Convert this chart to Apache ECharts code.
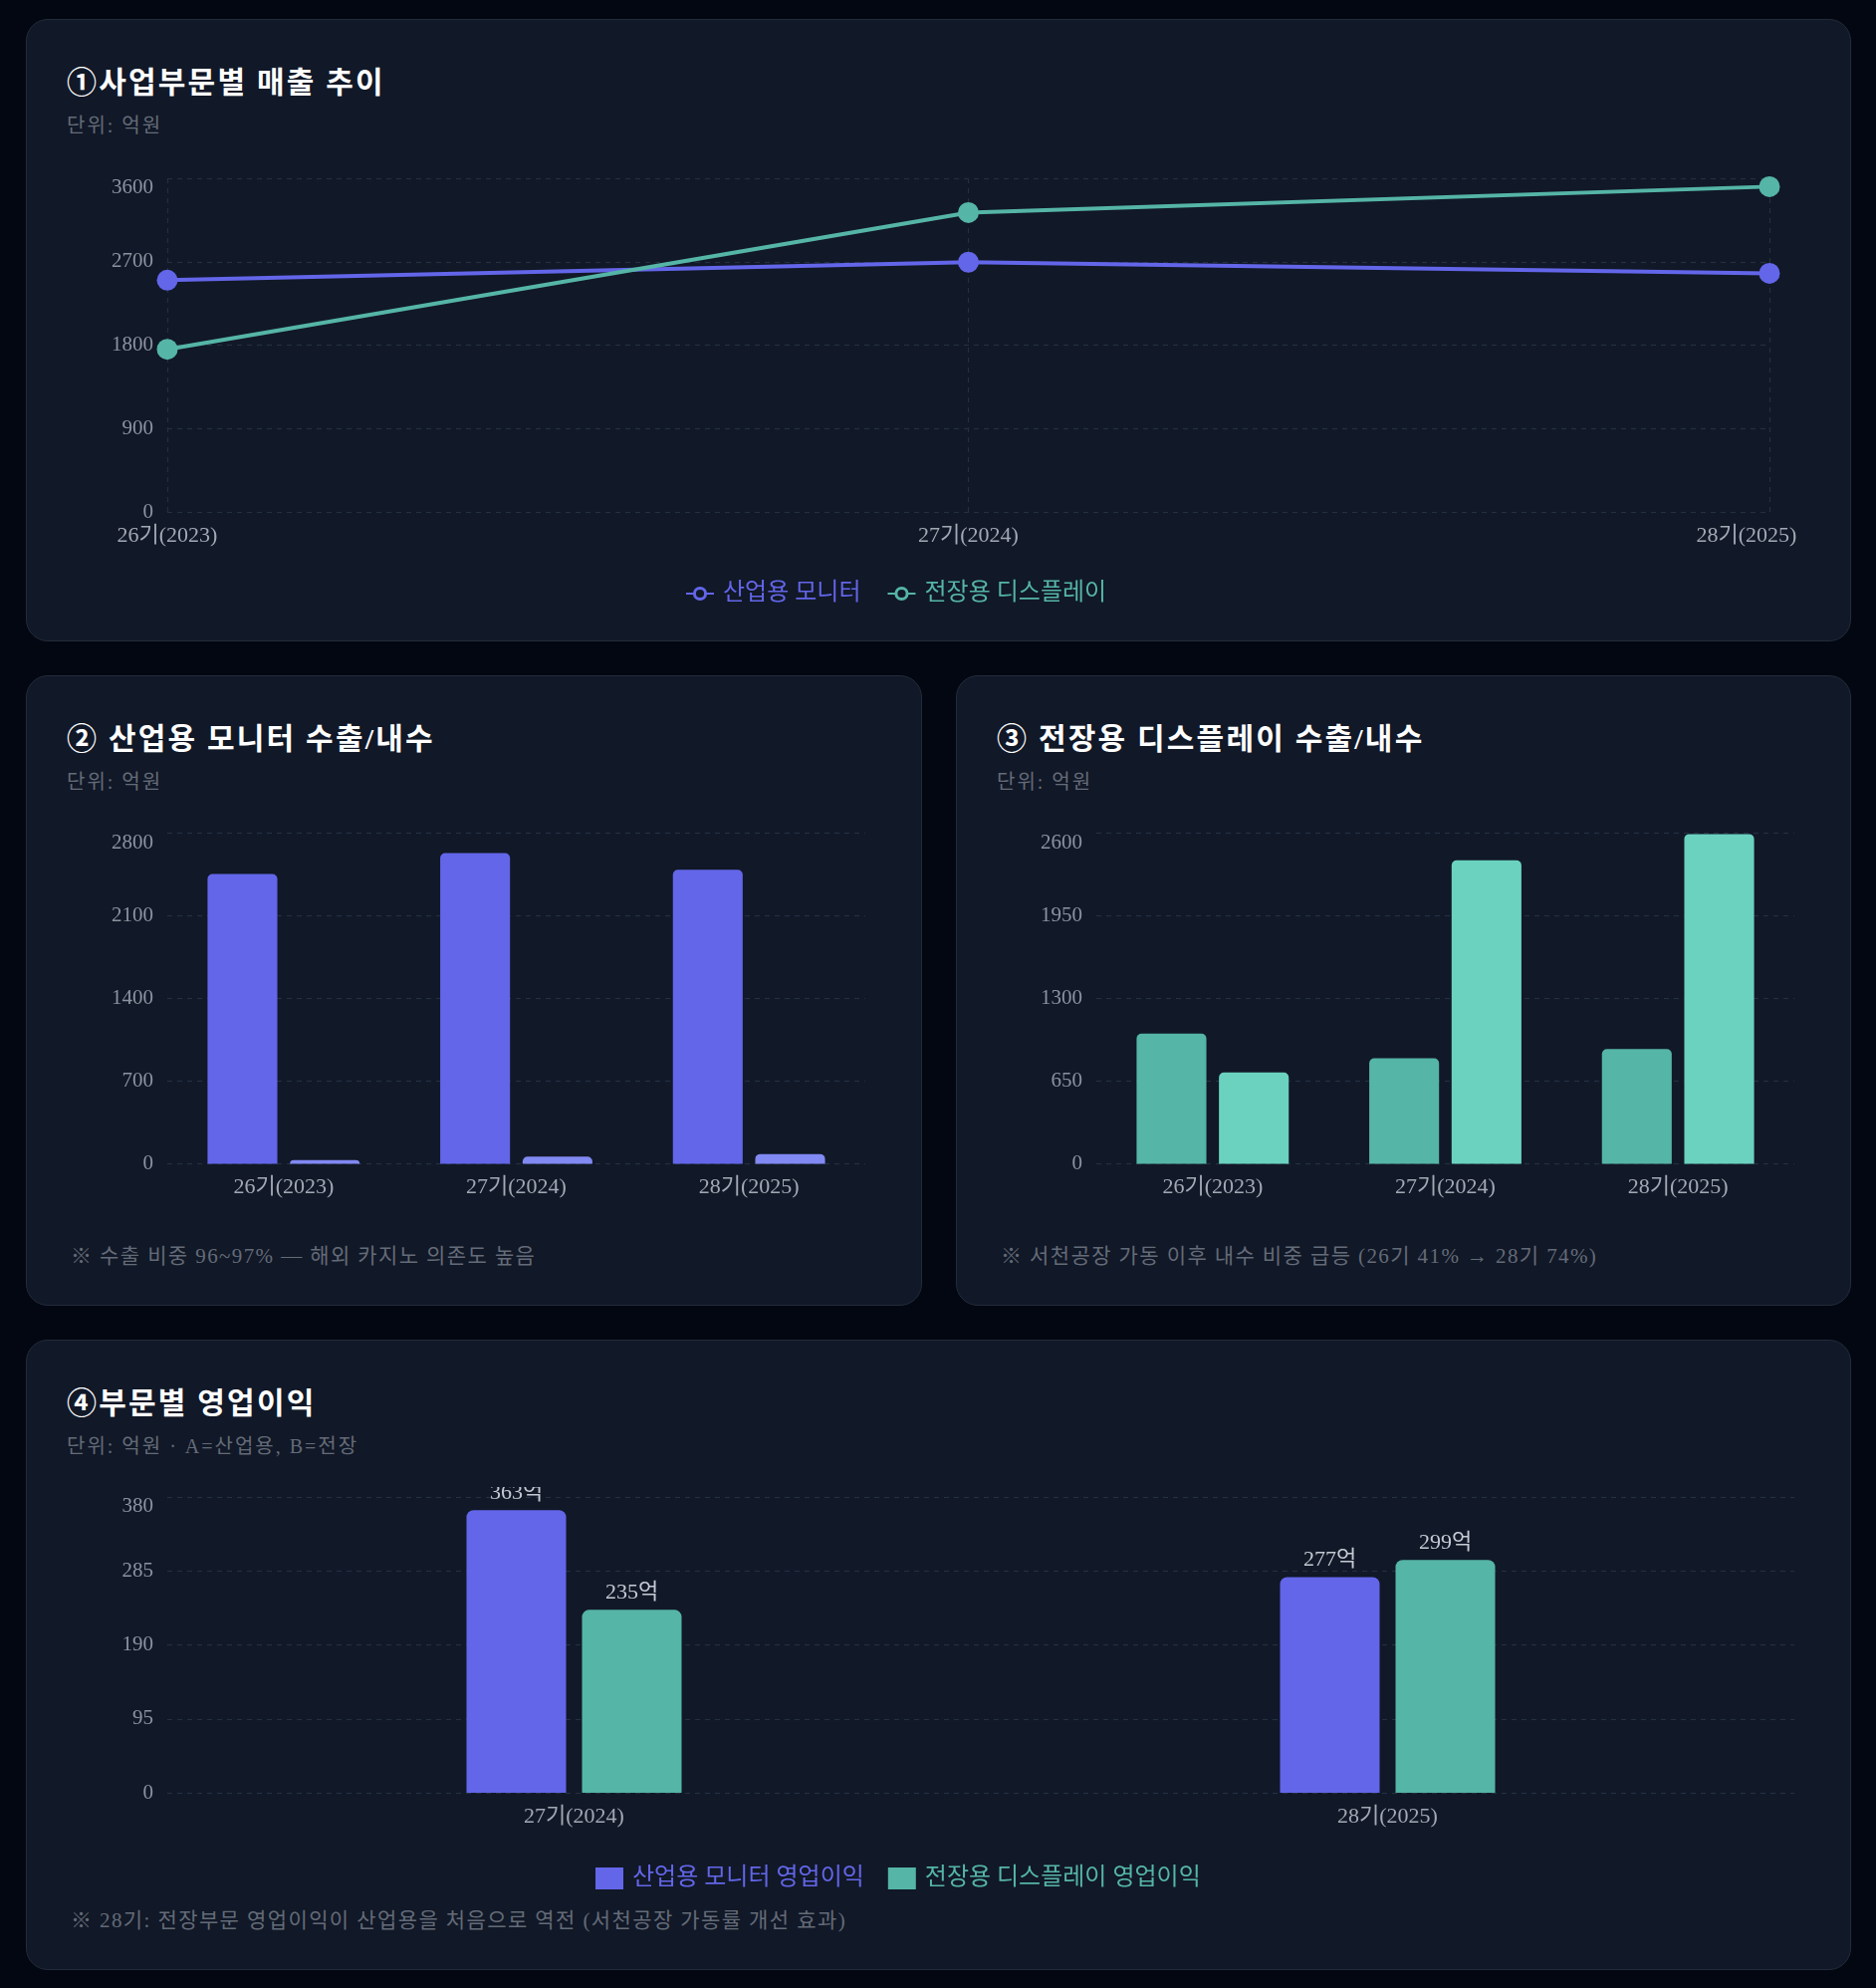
<!DOCTYPE html>
<html>
<head>
<meta charset="utf-8">
<script src="https://cdn.jsdelivr.net/npm/echarts@6/dist/echarts.min.js"></script>
<style>
  body { margin: 0; width: 1884px; height: 1996px; background: #030712; position: relative;
         font-family: 'Liberation Serif', 'Noto Sans CJK KR', serif; }
  .panel { position: absolute; background: #111827; border: 1px solid #232c3b; border-radius: 22px; box-sizing: border-box; }
  .title { position: absolute; left: 40px; top: 44px; line-height: 38px; font-size: 30px; font-weight: bold; letter-spacing: 2.2px; color: #ffffff; white-space: nowrap; }
  .sub { position: absolute; left: 40px; top: 93px; line-height: 26px; font-size: 20px; letter-spacing: 2px; color: #646b78; white-space: nowrap; }
  .note { position: absolute; left: 44px; top: 569px; line-height: 26px; font-size: 21px; letter-spacing: 1.4px; color: #646b78; white-space: nowrap; }
  .chart { position: absolute; }
</style>
</head>
<body>
<div class="panel" style="left:26px;top:19px;width:1833px;height:625px;">
  <div class="title">①사업부문별 매출 추이</div>
  <div class="sub">단위: 억원</div>
</div>
<div class="panel" style="left:26px;top:678px;width:900px;height:633px;">
  <div class="title">② 산업용 모니터 수출/내수</div>
  <div class="sub">단위: 억원</div>
  <div class="note">※ 수출 비중 96~97% — 해외 카지노 의존도 높음</div>
</div>
<div class="panel" style="left:960px;top:678px;width:899px;height:633px;">
  <div class="title">③ 전장용 디스플레이 수출/내수</div>
  <div class="sub">단위: 억원</div>
  <div class="note">※ 서천공장 가동 이후 내수 비중 급등 (26기 41% → 28기 74%)</div>
</div>
<div class="panel" style="left:26px;top:1345px;width:1833px;height:633px;">
  <div class="title">④부문별 영업이익</div>
  <div class="sub">단위: 억원 · A=산업용, B=전장</div>
  <div class="note">※ 28기: 전장부문 영업이익이 산업용을 처음으로 역전 (서천공장 가동률 개선 효과)</div>
</div>

<div id="c1" class="chart" style="left:66px;top:169px;width:1753px;height:445px;"></div>
<div id="c2" class="chart" style="left:66px;top:826px;width:820px;height:394px;"></div>
<div id="c3" class="chart" style="left:1000px;top:826px;width:819px;height:394px;"></div>
<div id="c4" class="chart" style="left:66px;top:1493px;width:1753px;height:412px;"></div>

<script>
// 데이터
var periods = ['26기(2023)', '27기(2024)', '28기(2025)'];
var industrialSales = [2500, 2695, 2575];
var autoSales = [1755, 3230, 3510];

var industrialExport = [2454, 2631, 2490];
var industrialDomestic = [32, 61, 83];

var autoExport = [1024, 830, 903];
var autoDomestic = [719, 2386, 2593];

var profitPeriods = ['27기(2024)', '28기(2025)'];
var industrialProfit = [363, 277];
var autoProfit = [235, 299];

var FONT = "'Liberation Serif', 'Noto Sans CJK KR', serif";
var PURPLE = '#6366e9';
var PURPLE_LIGHT = '#8189f3';
var TEAL = '#55b5a6';
var TEAL_LIGHT = '#6bd2c0';
var PANEL_BG = '#111827';
var Y_COLOR = '#8c93a0';
var X_COLOR = '#a3a9b4';
var GRIDLINE = { show: true, lineStyle: { color: '#233042', type: [5, 5], width: 1.2 } };

// 최대값 라벨은 그리드 안쪽으로 내려서 표시
function valueAxis(max, interval) {
  return {
    type: 'value', min: 0, max: max, interval: interval,
    axisLine: { show: false }, axisTick: { show: false },
    axisLabel: {
      color: Y_COLOR, fontSize: 21, fontFamily: FONT, margin: 14,
      formatter: function (v) { return v === max ? '{top|' + v + '}' : String(v); },
      rich: { top: { padding: [19, 0, 0, 0], color: Y_COLOR, fontSize: 21, fontFamily: FONT } }
    },
    splitLine: GRIDLINE
  };
}
function catAxis(data, gap, shiftLast) {
  return {
    type: 'category', data: data, boundaryGap: gap,
    axisLine: { show: false }, axisTick: { show: false },
    axisLabel: {
      color: X_COLOR, fontSize: 22, fontFamily: FONT, margin: 13,
      formatter: function (v, i) { return (shiftLast && i === data.length - 1) ? '{end|' + v + '}' : v; },
      rich: { end: { padding: [0, 46, 0, 0], color: X_COLOR, fontSize: 22, fontFamily: FONT } }
    },
    splitLine: gap ? { show: false } : GRIDLINE
  };
}

// ① 매출 추이
var chart1 = echarts.init(document.getElementById('c1'));
chart1.setOption({
  animation: false,
  grid: { left: 102, right: 42, top: 10, bottom: 100, outerBoundsMode: 'none' },
  legend: {
    top: 410, left: 617, itemWidth: 28, itemHeight: 14, itemGap: 26,
    textStyle: { fontSize: 24, fontFamily: FONT, padding: [0, 0, 0, 4] },
    data: [
      { name: '산업용 모니터', textStyle: { color: PURPLE },
        itemStyle: { color: PANEL_BG, borderColor: PURPLE, borderWidth: 3 } },
      { name: '전장용 디스플레이', textStyle: { color: TEAL },
        itemStyle: { color: PANEL_BG, borderColor: TEAL, borderWidth: 3 } }
    ]
  },
  xAxis: catAxis(periods, false, true),
  yAxis: valueAxis(3600, 900),
  series: [
    { name: '산업용 모니터', type: 'line', data: industrialSales, symbol: 'circle', symbolSize: 21,
      lineStyle: { width: 4, color: PURPLE }, itemStyle: { color: PURPLE } },
    { name: '전장용 디스플레이', type: 'line', data: autoSales, symbol: 'circle', symbolSize: 21,
      lineStyle: { width: 4, color: TEAL }, itemStyle: { color: TEAL } }
  ]
});

// ② 산업용 모니터 수출/내수
var chart2 = echarts.init(document.getElementById('c2'));
chart2.setOption({
  animation: false,
  grid: { left: 102, right: 17, top: 10.5, bottom: 51.5, outerBoundsMode: 'none' },
  xAxis: catAxis(periods, true, false),
  yAxis: valueAxis(2800, 700),
  series: [
    { name: '수출', type: 'bar', data: industrialExport, barWidth: '30%', barGap: '18%',
      itemStyle: { color: PURPLE, borderRadius: [5, 5, 0, 0] } },
    { name: '내수', type: 'bar', data: industrialDomestic, barWidth: '30%',
      itemStyle: { color: PURPLE_LIGHT, borderRadius: [5, 5, 0, 0] } }
  ]
});

// ③ 전장용 디스플레이 수출/내수
var chart3 = echarts.init(document.getElementById('c3'));
chart3.setOption({
  animation: false,
  grid: { left: 101, right: 17, top: 10.5, bottom: 51.5, outerBoundsMode: 'none' },
  xAxis: catAxis(periods, true, false),
  yAxis: valueAxis(2600, 650),
  series: [
    { name: '수출', type: 'bar', data: autoExport, barWidth: '30%', barGap: '18%',
      itemStyle: { color: TEAL, borderRadius: [5, 5, 0, 0] } },
    { name: '내수', type: 'bar', data: autoDomestic, barWidth: '30%',
      itemStyle: { color: TEAL_LIGHT, borderRadius: [5, 5, 0, 0] } }
  ]
});

// ④ 부문별 영업이익
var chart4 = echarts.init(document.getElementById('c4'));
var barLabel = { show: true, position: 'top', distance: 6, formatter: '{c}억',
                 color: '#c4cad3', fontSize: 22, fontFamily: FONT };
chart4.setOption({
  animation: false,
  grid: { left: 102, right: 17, top: 10, bottom: 105, outerBoundsMode: 'none' },
  legend: {
    top: 376, left: 527, itemWidth: 28, itemHeight: 22, itemGap: 24, icon: 'rect',
    textStyle: { fontSize: 24, fontFamily: FONT, color: 'inherit', padding: [0, 0, 0, 4] },
    data: ['산업용 모니터 영업이익', '전장용 디스플레이 영업이익']
  },
  xAxis: catAxis(profitPeriods, true, false),
  yAxis: valueAxis(380, 95),
  series: [
    { name: '산업용 모니터 영업이익', type: 'bar', data: industrialProfit, barWidth: '30%', barMaxWidth: 100, barGap: '16%',
      itemStyle: { color: PURPLE, borderRadius: [7, 7, 0, 0] }, label: barLabel },
    { name: '전장용 디스플레이 영업이익', type: 'bar', data: autoProfit, barWidth: '30%', barMaxWidth: 100,
      itemStyle: { color: TEAL, borderRadius: [7, 7, 0, 0] }, label: barLabel }
  ]
});
</script>
</body>
</html>
